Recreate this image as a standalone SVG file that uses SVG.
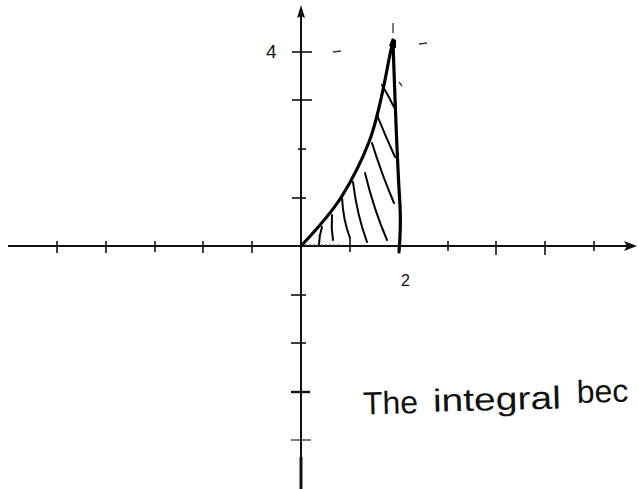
<svg xmlns="http://www.w3.org/2000/svg" width="638" height="489" viewBox="0 0 638 489">
<style>
.axis{stroke:#111;stroke-width:2;fill:none}
.tick{stroke:#111;stroke-width:1.6;fill:none}
.curve{stroke:#000;stroke-width:3.2;fill:none;stroke-linecap:round;stroke-linejoin:round}
.hatch{stroke:#000;stroke-width:2;fill:none;stroke-linecap:round}
.mark{stroke:#333;stroke-width:1.3;fill:none}
.lbl{font-family:"Liberation Sans",Arial,sans-serif;fill:#111}
</style>
<rect width="638" height="489" fill="#fff"/>
<g id="axes">
<line class="axis" x1="8" y1="246" x2="630" y2="246"/>
<polygon points="637,246 624,241 627,246 624,251" fill="#111"/>
<line class="axis" x1="301" y1="12" x2="301" y2="489"/>
<polygon points="301,5 297,18 301,16 305,18" fill="#111"/>
<line x1="301" y1="457" x2="301" y2="489" stroke="#111" stroke-width="3"/>
</g>
<g id="xticks">
<line class="tick" x1="57" y1="241" x2="57" y2="253"/>
<line class="tick" x1="106" y1="241" x2="106" y2="253"/>
<line class="tick" x1="155" y1="241" x2="155" y2="252"/>
<line class="tick" x1="203" y1="241" x2="203" y2="253"/>
<line class="tick" x1="252" y1="241" x2="252" y2="253"/>
<line class="tick" x1="350" y1="238" x2="350" y2="252"/>
<line class="tick" x1="448" y1="241" x2="448" y2="251"/>
<line class="tick" x1="496" y1="241" x2="496" y2="255"/>
<line class="tick" x1="545" y1="241" x2="545" y2="255"/>
<line class="tick" x1="594" y1="241" x2="594" y2="251"/>
</g>
<g id="yticks">
<line class="tick" x1="292" y1="52" x2="312" y2="52"/>
<line class="tick" x1="292" y1="100" x2="312" y2="100"/>
<line class="tick" x1="298" y1="149" x2="306" y2="149"/>
<line class="tick" x1="292" y1="198" x2="306" y2="198"/>
<line class="tick" x1="291" y1="295" x2="306" y2="295"/>
<line class="tick" x1="291" y1="343" x2="306" y2="343"/>
<line x1="291" y1="392" x2="310" y2="392" stroke="#111" stroke-width="2.4"/>
<line class="mark" x1="291" y1="440" x2="311" y2="440"/>
</g>
<g id="labels">
<text class="lbl" x="266" y="58" font-size="19">4</text>
<text class="lbl" x="401" y="286" font-size="16">2</text>
<text class="lbl" font-size="32" transform="rotate(-1.5 500 405)"><tspan x="363" y="411">The</tspan><tspan x="433" y="410" textLength="128" lengthAdjust="spacingAndGlyphs">integral</tspan><tspan x="577" y="405">bec</tspan></text>
</g>
<g id="marks">
<line class="mark" x1="333" y1="52" x2="341" y2="51"/>
<line class="mark" x1="419" y1="44" x2="427" y2="43"/>
<line class="mark" x1="393" y1="23" x2="393" y2="33"/>
<line class="mark" x1="399" y1="82" x2="402" y2="86"/>
</g>
<g id="region">
<path class="curve" d="M301,246 C318,228 332,212 342,196 C352,180 362,160 369,142 C376,124 381,100 385,80 C388,65 390,52 393,42"/>
<path class="curve" d="M393,42 C395,100 397,160 400,205 C401,225 400,240 399,252"/>
<path d="M389,46 L392,38 L396,40 L396,48 Z" fill="#000"/>
<path class="hatch" d="M382,85 Q388,95 394,107"/>
<path class="hatch" d="M377,115 Q385,135 395,157"/>
<path class="hatch" d="M372,143 Q382,175 394,203"/>
<path class="hatch" d="M365,173 Q374,210 387,240"/>
<path class="hatch" d="M353,182 Q357,215 367,242"/>
<path class="hatch" d="M342,197 Q343,220 350,238"/>
<path class="hatch" d="M332,215 Q331,228 333,240"/>
<path class="hatch" d="M322,227 Q319,236 319,245"/>
<line x1="305" y1="245" x2="340" y2="245" stroke="#555" stroke-width="1" stroke-dasharray="2 2"/>
</g>
</svg>
